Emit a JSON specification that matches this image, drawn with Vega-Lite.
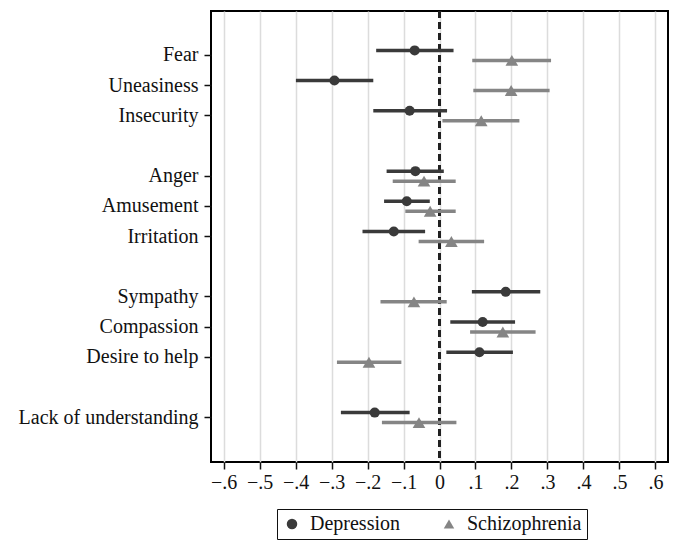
{
  "$schema": "https://vega.github.io/schema/vega-lite/v6.json",
  "width": 457,
  "height": 451,
  "autosize": "none",
  "padding": {"left": 211, "top": 11, "right": 10, "bottom": 79},
  "background": "white",
  "config": {
    "view": {"stroke": "black", "strokeWidth": 2},
    "font": "Liberation Serif",
    "axis": {"labelFont": "Liberation Serif", "labelFontSize": 20, "labelColor": "#111", "tickColor": "#111", "tickWidth": 1.5, "tickSize": 7, "domain": false, "title": null},
    "legend": {"labelFont": "Liberation Serif", "labelFontSize": 20, "labelColor": "#111"}
  },
  "data": {
    "values": [
      {"item": "Fear", "group": "Depression", "est": -0.069, "lo": -0.176, "hi": 0.039},
      {"item": "Fear", "group": "Schizophrenia", "est": 0.201, "lo": 0.091, "hi": 0.31},
      {"item": "Uneasiness", "group": "Depression", "est": -0.292, "lo": -0.399, "hi": -0.184},
      {"item": "Uneasiness", "group": "Schizophrenia", "est": 0.199, "lo": 0.094, "hi": 0.306},
      {"item": "Insecurity", "group": "Depression", "est": -0.083, "lo": -0.184, "hi": 0.021},
      {"item": "Insecurity", "group": "Schizophrenia", "est": 0.116, "lo": 0.008, "hi": 0.222},
      {"item": "Anger", "group": "Depression", "est": -0.067, "lo": -0.147, "hi": 0.012},
      {"item": "Anger", "group": "Schizophrenia", "est": -0.043, "lo": -0.13, "hi": 0.045},
      {"item": "Amusement", "group": "Depression", "est": -0.091, "lo": -0.154, "hi": -0.027},
      {"item": "Amusement", "group": "Schizophrenia", "est": -0.026, "lo": -0.095, "hi": 0.045},
      {"item": "Irritation", "group": "Depression", "est": -0.127, "lo": -0.214, "hi": -0.04},
      {"item": "Irritation", "group": "Schizophrenia", "est": 0.033, "lo": -0.058, "hi": 0.124},
      {"item": "Sympathy", "group": "Depression", "est": 0.184, "lo": 0.09, "hi": 0.28},
      {"item": "Sympathy", "group": "Schizophrenia", "est": -0.071, "lo": -0.164, "hi": 0.02},
      {"item": "Compassion", "group": "Depression", "est": 0.12, "lo": 0.03, "hi": 0.21},
      {"item": "Compassion", "group": "Schizophrenia", "est": 0.176, "lo": 0.085, "hi": 0.267},
      {"item": "Desire to help", "group": "Depression", "est": 0.111, "lo": 0.019, "hi": 0.204},
      {"item": "Desire to help", "group": "Schizophrenia", "est": -0.196, "lo": -0.285, "hi": -0.106},
      {"item": "Lack of understanding", "group": "Depression", "est": -0.18, "lo": -0.274, "hi": -0.083},
      {"item": "Lack of understanding", "group": "Schizophrenia", "est": -0.057, "lo": -0.16, "hi": 0.047}
    ]
  },
  "encoding": {
    "y": {
      "field": "item", "type": "nominal",
      "scale": {"type": "band", "paddingInner": 0, "paddingOuter": 0.97, "domain": ["Fear", "Uneasiness", "Insecurity", " ", "Anger", "Amusement", "Irritation", "  ", "Sympathy", "Compassion", "Desire to help", "   ", "Lack of understanding"]},
      "axis": {"values": ["Fear", "Uneasiness", "Insecurity", "Anger", "Amusement", "Irritation", "Sympathy", "Compassion", "Desire to help", "Lack of understanding"], "labelPadding": 6, "labelLimit": 300}
    }
  },
  "layer": [
    {
      "mark": {"type": "rule", "color": "#222", "strokeWidth": 1.8, "strokeDash": [7, 4]},
      "encoding": {
        "x": {"datum": 0, "type": "quantitative", "scale": {"domain": [-0.635, 0.635], "nice": false, "zero": false},
          "axis": {"values": [-0.6, -0.5, -0.4, -0.3, -0.2, -0.1, 0, 0.1, 0.2, 0.3, 0.4, 0.5, 0.6], "grid": true, "gridColor": "#dcdcdc", "gridWidth": 1.5, "labelPadding": 3, "labelFlush": false, "labelOverlap": false,
            "labelExpr": "datum.value == 0 ? '0' : (datum.value < 0 ? '\u2212' : '') + replace(format(abs(datum.value), '.1f'), '0.', '.')"}},
        "y": {"value": 0},
        "y2": {"value": 451}
      }
    },
    {
      "transform": [{"filter": "datum.group == 'Depression'"}],
      "mark": {"type": "rule", "color": "#3a3a3a", "strokeWidth": 3.5, "yOffset": -5},
      "encoding": {"x": {"field": "lo", "type": "quantitative",
          "axis": {"values": [-0.6, -0.5, -0.4, -0.3, -0.2, -0.1, 0, 0.1, 0.2, 0.3, 0.4, 0.5, 0.6], "grid": true, "gridColor": "#dcdcdc", "gridWidth": 1.5, "labelPadding": 3, "labelFlush": false, "labelOverlap": false,
            "labelExpr": "datum.value == 0 ? '0' : (datum.value < 0 ? '\u2212' : '') + replace(format(abs(datum.value), '.1f'), '0.', '.')"}}, "x2": {"field": "hi"}}
    },
    {
      "transform": [{"filter": "datum.group == 'Schizophrenia'"}],
      "mark": {"type": "rule", "color": "#858585", "strokeWidth": 3.5, "yOffset": 5},
      "encoding": {"x": {"field": "lo", "type": "quantitative",
          "axis": {"values": [-0.6, -0.5, -0.4, -0.3, -0.2, -0.1, 0, 0.1, 0.2, 0.3, 0.4, 0.5, 0.6], "grid": true, "gridColor": "#dcdcdc", "gridWidth": 1.5, "labelPadding": 3, "labelFlush": false, "labelOverlap": false,
            "labelExpr": "datum.value == 0 ? '0' : (datum.value < 0 ? '\u2212' : '') + replace(format(abs(datum.value), '.1f'), '0.', '.')"}}, "x2": {"field": "hi"}}
    },
    {
      "transform": [{"filter": "datum.group == 'Depression'"}],
      "mark": {"type": "point", "filled": true, "opacity": 1, "size": 100, "yOffset": -5},
      "encoding": {
        "x": {"field": "est", "type": "quantitative",
          "axis": {"values": [-0.6, -0.5, -0.4, -0.3, -0.2, -0.1, 0, 0.1, 0.2, 0.3, 0.4, 0.5, 0.6], "grid": true, "gridColor": "#dcdcdc", "gridWidth": 1.5, "labelPadding": 3, "labelFlush": false, "labelOverlap": false,
            "labelExpr": "datum.value == 0 ? '0' : (datum.value < 0 ? '\u2212' : '') + replace(format(abs(datum.value), '.1f'), '0.', '.')"}},
        "color": {"field": "group", "type": "nominal", "scale": {"domain": ["Depression", "Schizophrenia"], "range": ["#3a3a3a", "#858585"]}, "legend": {"title": null, "orient": "none", "legendX": 66, "legendY": 498, "direction": "horizontal", "strokeColor": "#111", "padding": 5, "symbolSize": 110, "labelOffset": 8, "columnPadding": 39, "symbolStrokeWidth": 0, "symbolOpacity": 1}},
        "shape": {"field": "group", "type": "nominal", "scale": {"domain": ["Depression", "Schizophrenia"], "range": ["circle", "triangle-up"]}, "legend": {"title": null, "orient": "none", "legendX": 66, "legendY": 498, "direction": "horizontal", "strokeColor": "#111", "padding": 5, "symbolSize": 110, "labelOffset": 8, "columnPadding": 39, "symbolStrokeWidth": 0, "symbolOpacity": 1}}
      }
    },
    {
      "transform": [{"filter": "datum.group == 'Schizophrenia'"}],
      "mark": {"type": "point", "filled": true, "opacity": 1, "size": 160, "yOffset": 5},
      "encoding": {
        "x": {"field": "est", "type": "quantitative",
          "axis": {"values": [-0.6, -0.5, -0.4, -0.3, -0.2, -0.1, 0, 0.1, 0.2, 0.3, 0.4, 0.5, 0.6], "grid": true, "gridColor": "#dcdcdc", "gridWidth": 1.5, "labelPadding": 3, "labelFlush": false, "labelOverlap": false,
            "labelExpr": "datum.value == 0 ? '0' : (datum.value < 0 ? '\u2212' : '') + replace(format(abs(datum.value), '.1f'), '0.', '.')"}},
        "color": {"field": "group", "type": "nominal"},
        "shape": {"field": "group", "type": "nominal"}
      }
    }
  ]
}
